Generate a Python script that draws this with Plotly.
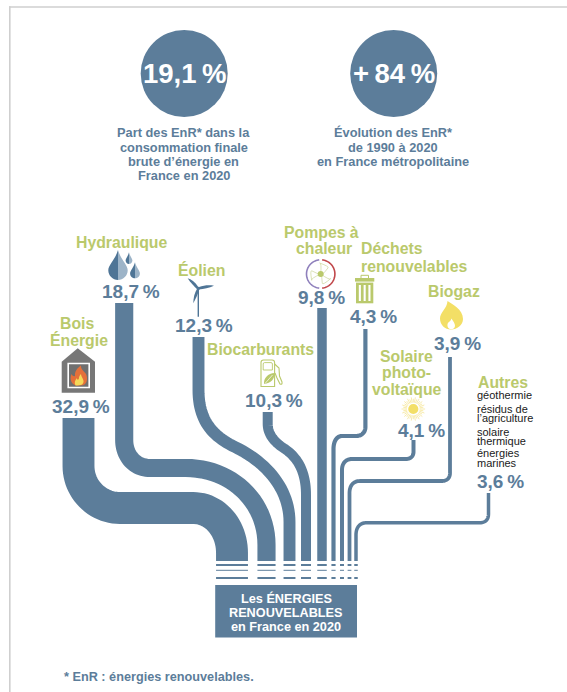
import math
import plotly.graph_objects as go

# Shares of renewable energy by source, France 2020 (%)
categories = ["Bois Énergie", "Hydraulique", "Éolien", "Biocarburants", "Pompes à chaleur",
              "Déchets renouvelables", "Solaire photovoltaïque", "Biogaz", "Autres"]
shares = [32.9, 18.7, 12.3, 10.3, 9.8, 4.3, 4.1, 3.9, 3.6]

headline_values = ["19,1\u2009%", "+\u200984\u2009%"]
other_sources = ["géothermie", "résidus de", "l’agriculture", "solaire", "thermique", "énergies", "marines"]

BLUE = "#5C7D9A"
DROP_DARK = "#4F7596"
DROP_LIGHT = "#9DB4C8"
GREEN = "#BAC96C"
FRAME = "#CFCFCF"
YELLOW = "#F3DF66"
FONT = "Liberation Sans"
PX_PER_POINT = 0.97      # ribbon thickness per percentage point

# Ribbon routes: start point, then straight (x, y) or cubic ((c1), (c2), (end)) steps
ROUTES = {
    "Bois Énergie": [(78.5, 418), (78.5, 466), ((78.5, 489), (97, 508), (120, 508)), (193, 508),
                     ((215, 508), (232, 528), (232, 553)), (232, 561)],
    "Hydraulique": [(124.2, 303), (124.2, 440), ((124.2, 456), (135, 468), (150, 468)), (186, 468),
                    ((230, 468), (266.5, 500), (266.5, 545)), (266.5, 561)],
    "Éolien": [(198.5, 337), (198.5, 390), ((198.5, 420), (212, 436), (235, 447)),
               ((268, 463), (289.5, 490), (289.5, 522)), (289.5, 561)],
    "Biocarburants": [(267.7, 412), (267.7, 424), ((267.7, 436), (277, 444), (285, 449)),
                      ((298, 458), (306, 472), (306, 495)), (306, 561)],
    "Pompes à chaleur": [(322, 308), (322, 561)],
    "Déchets renouvelables": [(365.4, 329), (365.4, 427), ((365.4, 433), (361, 436), (356, 436)), (342, 436),
                              ((337, 436), (333.5, 441), (333.5, 449)), (333.5, 561)],
    "Solaire photovoltaïque": [(413.5, 440), (413.5, 452), ((413.5, 456.5), (410, 459), (406, 459)), (352, 459),
                               ((346, 459), (342, 463), (342, 470)), (342, 561)],
    "Biogaz": [(450, 357), (450, 473), ((450, 478.5), (446.5, 481), (442, 481)), (360, 481),
               ((353, 481), (349.5, 486), (349.5, 493)), (349.5, 561)],
    "Autres": [(488.5, 493), (488.5, 514), ((488.5, 520), (485, 522.7), (480, 522.7)), (367, 522.7),
               ((360, 522.7), (356, 527), (356, 535)), (356, 561)],
}
STRIPES = [(564, 566), (569.8, 570.8), (577, 579)]


def trace_route(steps):
    """Expand a route into polyline coordinates, sampling the cubic steps."""
    xs, ys = [steps[0][0]], [steps[0][1]]
    for step in steps[1:]:
        if isinstance(step[0], tuple):
            p0 = (xs[-1], ys[-1])
            c1, c2, p3 = step
            for i in range(1, 25):
                t = i / 24
                u = 1 - t
                xs.append(u**3 * p0[0] + 3 * u * u * t * c1[0] + 3 * u * t * t * c2[0] + t**3 * p3[0])
                ys.append(u**3 * p0[1] + 3 * u * u * t * c1[1] + 3 * u * t * t * c2[1] + t**3 * p3[1])
        else:
            xs.append(step[0])
            ys.append(step[1])
    return xs, ys


fig = go.Figure()

# Ribbons converging on the total box, each breaking into stripes just above it
for name, share in zip(categories, shares):
    xs, ys = trace_route(ROUTES[name])
    foot = xs[-1]
    for top, bottom in STRIPES:
        xs += [None, foot, foot]
        ys += [None, top, bottom]
    fig.add_trace(go.Scatter(x=xs, y=ys, mode="lines", name=name, hoverinfo="name",
                             line=dict(color=BLUE, width=share * PX_PER_POINT, simplify=False)))

shapes = []


def add_path(path, fill=None, line=None, width=0):
    shapes.append(dict(type="path", xref="x", yref="y", path=path,
                       fillcolor=fill or "rgba(0,0,0,0)",
                       line=dict(color=line or "rgba(0,0,0,0)", width=width)))


def add_rect(x0, y0, x1, y1, fill, line=None, width=0):
    shapes.append(dict(type="rect", xref="x", yref="y", x0=x0, y0=y0, x1=x1, y1=y1,
                       fillcolor=fill, line=dict(color=line or "rgba(0,0,0,0)", width=width)))


def add_circle(cx, cy, r, fill):
    shapes.append(dict(type="circle", xref="x", yref="y", x0=cx - r, x1=cx + r, y0=cy - r, y1=cy + r,
                       fillcolor=fill, line=dict(width=0)))


def arc_path(cx, cy, r, a0, a1):
    pts = []
    for i in range(41):
        a = math.radians(a0 + (a1 - a0) * i / 40)
        pts.append(f"{cx + r * math.cos(a):.2f},{cy + r * math.sin(a):.2f}")
    return "M" + " L".join(pts)


def drop(cx, top, bottom, half):
    belly = bottom - half
    k = half * 0.55
    add_path(f"M{cx},{top} C{cx - half * 0.25},{top + (belly - top) * 0.45} {cx - half},{belly - k} {cx - half},{belly} "
             f"C{cx - half},{belly + k} {cx - k},{bottom} {cx},{bottom} Z", fill=DROP_DARK)
    add_path(f"M{cx},{top} C{cx + half * 0.25},{top + (belly - top) * 0.45} {cx + half},{belly - k} {cx + half},{belly} "
             f"C{cx + half},{belly + k} {cx + k},{bottom} {cx},{bottom} Z", fill=DROP_LIGHT)


# Frame along the top and left edges
add_rect(9, 6.2, 567, 7.8, FRAME)
add_rect(9, 6.2, 10.6, 692, FRAME)

# Headline discs and total box
add_circle(184.2, 73.5, 43.5, BLUE)
add_circle(393.7, 73.5, 43.5, BLUE)
add_rect(215.2, 585, 357, 637.5, BLUE)

# Wood stove house
add_path("M77.7,348.3 L95,361.7 L95,392.8 L61.7,392.8 L61.7,361.7 Z", fill="#777777")
add_rect(68.2, 363.5, 89.2, 387.5, "#6F6F6F", line="#FFFFFF", width=1.6)
add_path("M76,385.5 C71,384 69.5,379 71.5,374 C72.5,376 74,376.5 75,376 C74.5,372 77,368 81,365.5 "
         "C80.5,369 84,371 86,374 C87.5,377 87.5,382 85,384 C83.5,385.5 81,385.5 76,385.5 Z", fill="#E4703A")
add_path("M75.5,385.5 C74,383 75,380 77,378 C77,380 78,380 78.8,379 C79,377 79.5,375 81,374 "
         "C81,377 84,379 83.5,382 C83,384.5 81.5,385.5 75.5,385.5 Z", fill="#F5D858")

# Water drops
drop(118, 250, 280, 9.7)
drop(129, 252.3, 264, 3.4)
drop(135, 262.3, 278.3, 4.9)

# Wind turbine
add_path("M197.6,288.5 L199,288.5 L199,316.7 L197.6,316.7 Z", fill=DROP_DARK)
add_path("M198.3,287 C195,282 191,279 187.7,278.3 C190,282 194,286.5 197.5,289.5 Z", fill=DROP_DARK)
add_path("M199,287 C204,285 210,285 214,285.7 C209,288 204,289 198.5,289.5 Z", fill=DROP_DARK)
add_path("M197.2,288.5 C194.5,293 193.3,298 193.3,303.3 C195.5,299 198,294 199.5,289 Z", fill=DROP_DARK)
add_circle(198.3, 288.3, 1.5, DROP_DARK)

# Fuel pump with a leaf
add_path("M261,386.5 L261,362.5 Q261,360 263.5,360 L272,360 Q274.6,360 274.6,362.5 L274.6,386.5 Z",
         line=GREEN, width=1.1)
add_path("M263.2,370 L263.2,364 Q263.2,362.6 264.6,362.6 L271,362.6 Q272.4,362.6 272.4,364 L272.4,370 Z",
         line=GREEN, width=0.9)
add_path("M274.6,364 L279,368 L279.5,376 L282,382 Q282.5,385 280,384 L277,378 L275,373",
         line=GREEN, width=1.1)
add_path("M264,384 C263.5,378 268,373.5 274.5,373 C275,378.5 271,383.5 264,384 Z", fill=GREEN)
add_path("M265,383.5 L272.5,375", line="#FFFFFF", width=0.7)

# Heat pump dial and fan
add_path(arc_path(320.7, 274, 14.2, -84, 84), line="#C0474A", width=1.6)
add_path(arc_path(320.7, 274, 14.2, 96, 264), line="#8F80BC", width=1.6)
for angle in (-95, 25, 145):
    a = math.radians(angle)
    b = math.radians(angle + 55)
    tipx, tipy = 320.7 + 11 * math.cos(a), 274 + 11 * math.sin(a)
    sidex, sidey = 320.7 + 9.5 * math.cos(b), 274 + 9.5 * math.sin(b)
    add_path(f"M320.7,274 Q{tipx - 2 * math.sin(a):.1f},{tipy + 2 * math.cos(a):.1f} {tipx:.1f},{tipy:.1f} "
             f"Q{sidex + 2 * math.cos(b):.1f},{sidey + 2 * math.sin(b):.1f} {sidex:.1f},{sidey:.1f} Q322,276 320.7,274 Z",
             line="#CBD59A", width=0.7)
add_circle(320.7, 274, 3, GREEN)

# Waste bin
add_rect(361, 275.3, 368.5, 279, "rgba(0,0,0,0)", line=GREEN, width=1)
add_rect(355, 278, 374.3, 281.6, GREEN)
add_rect(356, 282.6, 373.3, 303.3, GREEN)
for slot in (358.8, 363.6, 368.4):
    add_rect(slot, 285, slot + 2.1, 301, "#FFFFFF")

# Biogas flame
add_path("M447.5,301 C452,304 463,309 463,319 C463,325 457,329.5 451,329.5 "
         "C445,329.5 440,325 440,318.5 C440,312 447,309 447.5,301 Z", fill=YELLOW)
add_path("M451.2,329.3 C447.5,329.3 446.8,325 448,323 C449,321.5 451,321 451.5,318.5 "
         "C453,321 455.2,323.5 455,326 C454.7,328.3 453,329.3 451.2,329.3 Z", fill="#FFFFFF")

# Sun rays
ray_x, ray_y = [], []
for i in range(36):
    a = 2 * math.pi * i / 36
    reach = 11.8 if i % 2 == 0 else 10.2
    ray_x += [413.3 + 6.4 * math.cos(a), 413.3 + reach * math.cos(a), None]
    ray_y += [409 + 6.4 * math.sin(a), 409 + reach * math.sin(a), None]
fig.add_trace(go.Scatter(x=ray_x, y=ray_y, mode="lines", hoverinfo="skip", line=dict(color="#F4E38A", width=0.7)))
add_circle(413.3, 409, 5.1, YELLOW)

annotations = []


def label(text, x, y, size, color, weight=700, anchor="center"):
    annotations.append(dict(text=text, x=x, y=y, xref="x", yref="y", showarrow=False,
                            xanchor=anchor, yanchor="middle", borderpad=0, borderwidth=0,
                            font=dict(family=FONT, size=size, color=color, weight=weight)))


def pct(value):
    return f"{value:.1f}".replace(".", ",") + "\u2009%"


# Headlines
label(headline_values[0], 184.2, 73.5, 27.5, "#FFFFFF")
label(headline_values[1], 393.7, 73.5, 27.5, "#FFFFFF")
for line, y in zip(["Part des EnR* dans la", "consommation finale", "brute d’énergie en", "France en 2020"],
                   [132.7, 147, 161.5, 175.7]):
    label(line, 183.5, y, 12.8, BLUE)
for line, y in zip(["Évolution des EnR*", "de 1990 à 2020", "en France métropolitaine"], [132.7, 147, 161.5]):
    label(line, 393, y, 12.8, BLUE)

# Source names
GREEN_LABELS = [("Hydraulique", 122, 242), ("Bois", 77, 323), ("Énergie", 79, 340),
                ("Éolien", 201.7, 270), ("Biocarburants", 260, 349),
                ("Pompes à", 321.7, 232), ("chaleur", 324, 248),
                ("Déchets", 392.3, 248), ("renouvelables", 414, 266),
                ("Biogaz", 454, 291.7), ("Solaire", 406.7, 356.7),
                ("photo-", 406.7, 372.7), ("voltaïque", 407, 389),
                ("Autres", 503, 382)]
for text, x, y in GREEN_LABELS:
    label(text, x, y, 15.8, GREEN)

# Share labels, written from the same values as the ribbons
VALUE_SPOTS = [(81, 406), (131, 291.7), (204, 325), (274, 400.7), (321, 297.7), (373, 316), (421.3, 430), (457, 343),
               (500.7, 481.7)]
for share, (x, y) in zip(shares, VALUE_SPOTS):
    label(pct(share), x, y, 19, BLUE)

# Detail of the "Autres" group
for text, y in zip(other_sources, [395, 408.7, 418, 431.7, 441, 453, 463]):
    label(text, 477, y, 11, "#1A1A1A", weight=400, anchor="left")

# Total box and footnote
for text, y in zip(["Les ÉNERGIES", "RENOUVELABLES", "en France en 2020"], [598, 612.5, 627]):
    label(text, 286, y, 12.7, "#FFFFFF")
label("* EnR : énergies renouvelables.", 64, 677, 12.7, BLUE, anchor="left")

fig.update_layout(
    width=567, height=692, autosize=False, showlegend=False,
    margin=dict(l=0, r=0, t=0, b=0), paper_bgcolor="#FFFFFF", plot_bgcolor="#FFFFFF",
    xaxis=dict(range=[0, 567], visible=False, fixedrange=True),
    yaxis=dict(range=[692, 0], visible=False, fixedrange=True),
    shapes=shapes, annotations=annotations,
)
fig.write_html("out.html", config=dict(displayModeBar=False))
